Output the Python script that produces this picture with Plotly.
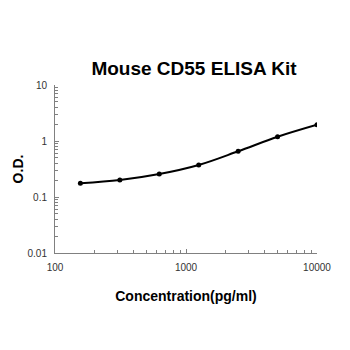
import plotly.graph_objects as go

concentration = [156.25, 312.5, 625, 1250, 2500, 5000, 10000]
od_values = [0.176, 0.201, 0.257, 0.373, 0.655, 1.19, 1.95]

x_ticks = [100, 1000, 10000]
x_tick_labels = ["100", "1000", "10000"]
x_minor_ticks = [m * d for d in (100, 1000) for m in range(2, 10)]
y_ticks = [0.01, 0.1, 1, 10]
y_tick_labels = ["0.01", "0.1", "1", "10"]
y_minor_ticks = [m * d for d in (0.01, 0.1, 1) for m in range(2, 10)]

fig = go.Figure()
fig.add_trace(go.Scatter(
    x=concentration, y=od_values, mode="lines+markers",
    line=dict(color="black", width=2, shape="spline", smoothing=1.0),
    marker=dict(color="black", size=5),
    showlegend=False,
))

axis_font = dict(family="Liberation Sans, Arial, sans-serif", size=10, color="#333333")
fig.update_layout(
    width=350, height=350,
    margin=dict(l=55, r=33, t=85, b=97),
    paper_bgcolor="white", plot_bgcolor="white",
    title=dict(text="<b>Mouse CD55 ELISA Kit</b>", x=194/350, xanchor="center",
               y=1 - 68/350, yanchor="middle",
               font=dict(family="Liberation Sans, Arial, sans-serif", size=19, color="black")),
    xaxis=dict(type="log", range=[2, 4], tickvals=x_ticks, ticktext=x_tick_labels,
               showline=True, linecolor="#808080", linewidth=1, showgrid=False, zeroline=False,
               ticks="inside", ticklen=4, tickcolor="#808080", ticklabelstandoff=5,
               minor=dict(tickmode="array", tickvals=x_minor_ticks, ticks="inside", ticklen=3,
                          tickcolor="#808080", showgrid=False),
               tickfont=axis_font,
               title=dict(text="<b>Concentration(pg/ml)</b>", standoff=19,
                          font=dict(family="Liberation Sans, Arial, sans-serif", size=14, color="black"))),
    yaxis=dict(type="log", range=[-2, 1], tickvals=y_ticks, ticktext=y_tick_labels,
               showline=True, linecolor="#808080", linewidth=1, showgrid=False, zeroline=False,
               ticks="inside", ticklen=4, tickcolor="#808080", ticklabelstandoff=5,
               minor=dict(tickmode="array", tickvals=y_minor_ticks, ticks="inside", ticklen=3,
                          tickcolor="#808080", showgrid=False),
               tickfont=axis_font,
               title=dict(text="<b>O.D.</b>", standoff=0,
                          font=dict(family="Liberation Sans, Arial, sans-serif", size=14, color="black"))),
)
fig.write_html("out.html")
